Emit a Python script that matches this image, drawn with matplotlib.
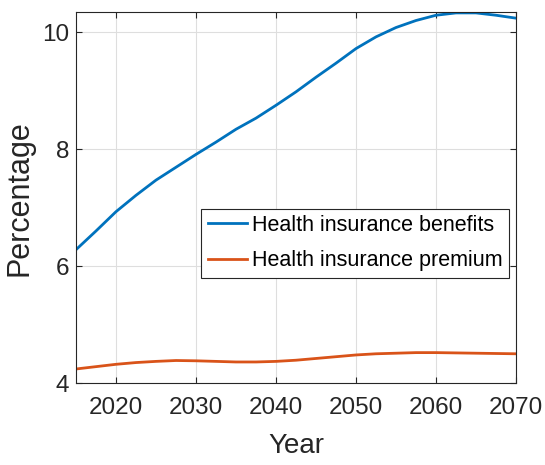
import numpy as np
import matplotlib
matplotlib.use('Agg')
import matplotlib.pyplot as plt

plt.rcParams['font.family'] = ['Liberation Sans', 'DejaVu Sans']

# valores (a cada 2,5 anos)
anos = [2015, 2017.5, 2020, 2022.5, 2025, 2027.5, 2030, 2032.5, 2035, 2037.5, 2040, 2042.5,
        2045, 2047.5, 2050, 2052.5, 2055, 2057.5, 2060, 2062.5, 2065, 2067.5, 2070]
beneficios = [6.28, 6.60, 6.93, 7.21, 7.47, 7.69, 7.91, 8.12, 8.34, 8.53, 8.75, 8.98,
              9.23, 9.47, 9.72, 9.92, 10.08, 10.20, 10.29, 10.33, 10.33, 10.29, 10.24]
premio = [4.24, 4.28, 4.32, 4.35, 4.37, 4.385, 4.38, 4.37, 4.36, 4.36, 4.37, 4.39,
          4.42, 4.45, 4.48, 4.50, 4.51, 4.52, 4.52, 4.515, 4.51, 4.505, 4.50]

xticks = [2020, 2030, 2040, 2050, 2060, 2070]
yticks = [4, 6, 8, 10]

azul = '#0072BD'
laranja = '#D95319'
cinza = '#262626'

fig = plt.figure(figsize=(5.45, 4.65), dpi=100)
ax = fig.add_axes([0.1394, 0.1763, 0.8074, 0.7972])

ax.plot(anos, beneficios, color=azul, linewidth=2.0, label='Health insurance benefits')
ax.plot(anos, premio, color=laranja, linewidth=2.0, label='Health insurance premium')

ax.set_xlim(2015, 2070)
ax.set_ylim(4, 10.34)
ax.set_xticks(xticks)
ax.set_yticks(yticks)

ax.grid(True, color='#dedede', linewidth=0.8)
ax.set_axisbelow(True)
ax.tick_params(direction='in', length=4, width=0.8, top=True, right=True,
               colors=cinza, labelsize=17.5)
ax.tick_params(axis='x', pad=10)
ax.tick_params(axis='y', pad=5)
for s in ax.spines.values():
    s.set_color(cinza)
    s.set_linewidth(0.8)

ax.set_xlabel('Year', fontsize=20, color=cinza)
ax.set_ylabel('Percentage', fontsize=22, color=cinza)
ax.xaxis.set_label_coords(0.5, -0.135)
ax.yaxis.set_label_coords(-0.095, 0.50)

leg = ax.legend(loc='lower right', bbox_to_anchor=(0.984, 0.2836), fontsize=15.5,
                fancybox=False, edgecolor=cinza, framealpha=1, handlelength=1.8,
                handletextpad=0.25, borderpad=0.3, labelspacing=0.67, borderaxespad=0)
leg.get_frame().set_linewidth(0.8)

fig.savefig('out.png', dpi=100)
